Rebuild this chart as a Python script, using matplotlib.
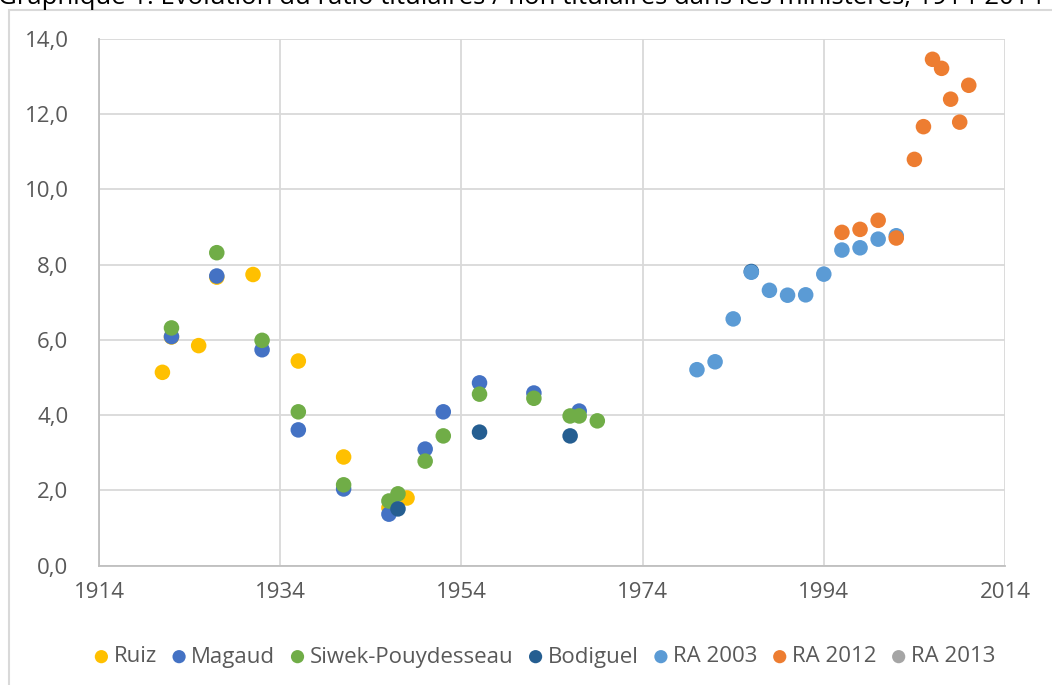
import matplotlib
matplotlib.use("Agg")
import matplotlib.pyplot as plt
from matplotlib.patches import Rectangle
from matplotlib.ticker import FuncFormatter

# ===== DATA =====
ruiz_years = [1921, 1922, 1925, 1927, 1931, 1936, 1941, 1946, 1948]
ruiz_vals = [5.14, 6.08, 5.85, 7.67, 7.74, 5.44, 2.89, 1.54, 1.80]

magaud_years = [1922, 1927, 1932, 1936, 1941, 1946, 1950, 1952, 1956, 1962, 1967]
magaud_vals = [6.09, 7.70, 5.74, 3.61, 2.04, 1.37, 3.10, 4.09, 4.86, 4.59, 4.11]

siwek_years = [1922, 1927, 1932, 1936, 1941, 1946, 1947, 1950, 1952, 1956, 1962, 1966, 1967, 1969]
siwek_vals = [6.32, 8.32, 5.99, 4.09, 2.15, 1.72, 1.91, 2.78, 3.45, 4.56, 4.45, 3.98, 3.98, 3.85]

bodiguel_years = [1947, 1956, 1966, 1986]
bodiguel_vals = [1.51, 3.55, 3.45, 7.82]

ra2003_years = [1980, 1982, 1984, 1986, 1988, 1990, 1992, 1994, 1996, 1998, 2000, 2002]
ra2003_vals = [5.21, 5.42, 6.56, 7.80, 7.32, 7.19, 7.20, 7.75, 8.39, 8.45, 8.68, 8.77]

ra2012_years = [1996, 1998, 2000, 2002, 2004, 2005, 2006, 2007, 2008, 2009, 2010]
ra2012_vals = [8.86, 8.94, 9.18, 8.71, 10.80, 11.67, 13.46, 13.22, 12.40, 11.79, 12.77]

ra2013_years = []
ra2013_vals = []

series = [
    ("Ruiz", ruiz_years, ruiz_vals, "#FFC000"),
    ("Magaud", magaud_years, magaud_vals, "#4472C4"),
    ("Siwek-Pouydesseau", siwek_years, siwek_vals, "#70AD47"),
    ("Bodiguel", bodiguel_years, bodiguel_vals, "#255E91"),
    ("RA 2003", ra2003_years, ra2003_vals, "#5B9BD5"),
    ("RA 2012", ra2012_years, ra2012_vals, "#ED7D31"),
    ("RA 2013", ra2013_years, ra2013_vals, "#A5A5A5"),
]

TITLE = "Graphique 1. Evolution du ratio titulaires / non titulaires dans les ministères, 1914-2014"

plt.rcParams["font.family"] = ["Open Sans", "DejaVu Sans"]

fig = plt.figure(figsize=(10.52, 6.85), dpi=100)
fig.patch.set_facecolor("white")

# chart border (Excel style)
fig.add_artist(Rectangle((9 / 1052, -0.05), 1.2, 1 - 10 / 685 + 0.05,
                         transform=fig.transFigure, fill=False,
                         edgecolor="#D9D9D9", linewidth=1.5))

# title sits mostly above the visible area, as in the source screenshot
fig.text(-0.002, 1 - 4 / 685, TITLE, fontsize=18.5, color="black",
         ha="left", va="baseline")

ax = fig.add_axes([99 / 1052, 1 - 565.7 / 685, (1005 - 99) / 1052, (565.7 - 39) / 685])

for name, xs, ys, col in series:
    ax.scatter(xs, ys, s=125, color=col, label=name, edgecolors="none", zorder=3)

ax.set_xlim(1914, 2014)
ax.set_ylim(0, 14)
ax.set_xticks(range(1914, 2015, 20))
ax.set_yticks(range(0, 15, 2))
ax.yaxis.set_major_formatter(FuncFormatter(lambda v, p: f"{v:.1f}".replace(".", ",")))

ax.grid(True, color="#D9D9D9", linewidth=1.3, zorder=0)
ax.set_axisbelow(True)
for side in ["top", "right"]:
    ax.spines[side].set_visible(False)
for side in ["left", "bottom"]:
    ax.spines[side].set_color("#BFBFBF")
    ax.spines[side].set_linewidth(1.3)

ax.tick_params(length=0, labelsize=16, labelcolor="#595959")
ax.tick_params(axis="x", pad=12)
ax.tick_params(axis="y", pad=22)

leg = fig.legend(loc="center", bbox_to_anchor=(0.517, 1 - 657 / 685), ncol=7,
                 frameon=False, fontsize=16, handletextpad=0.15,
                 handlelength=0.8, scatterpoints=1,
                 columnspacing=0.6, markerscale=0.85, borderpad=0)
for t in leg.get_texts():
    t.set_color("#595959")

fig.savefig("out.png", dpi=100)
